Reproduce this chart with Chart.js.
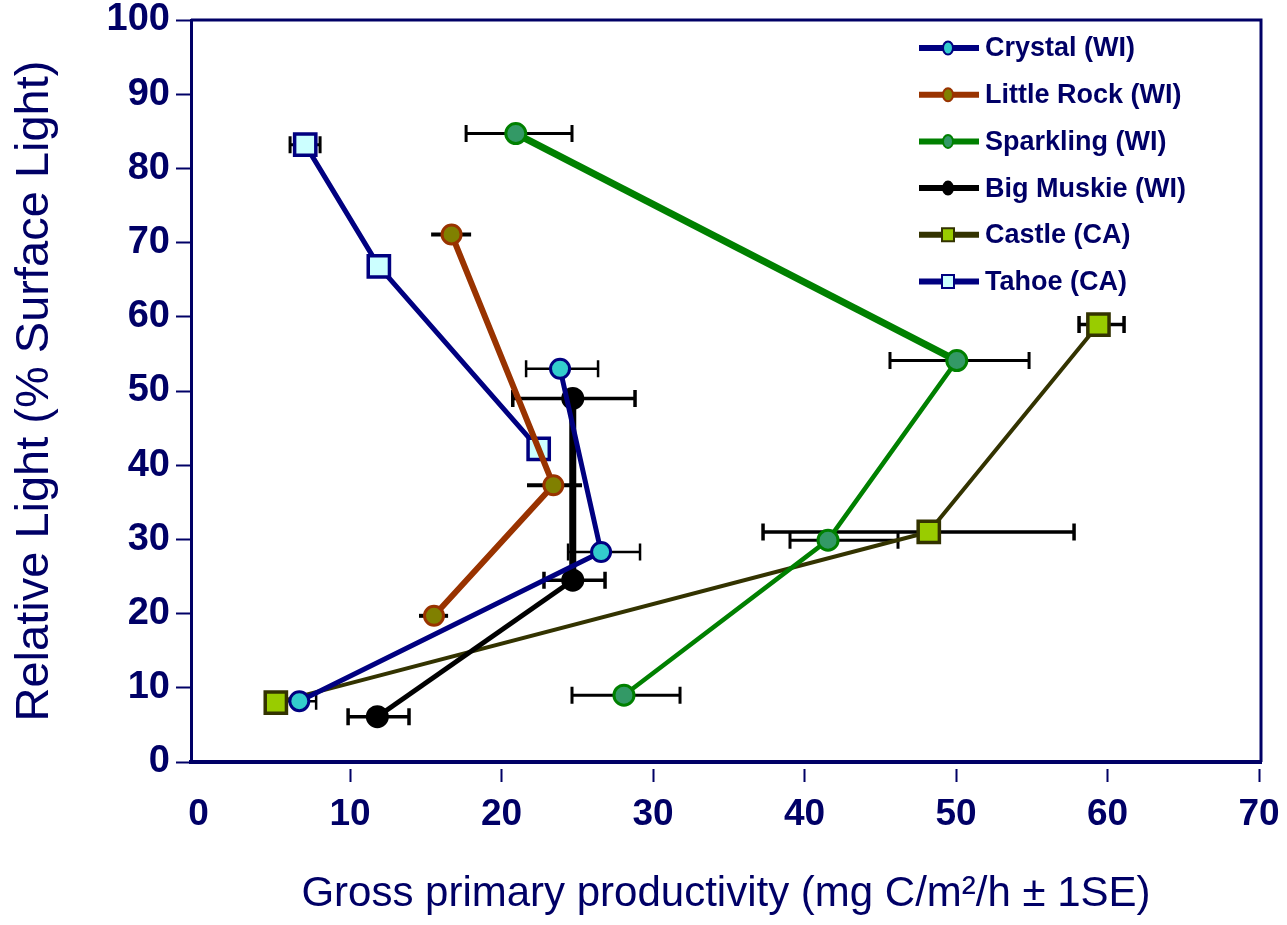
<!DOCTYPE html>
<html>
<head>
<meta charset="utf-8">
<script src="https://cdn.jsdelivr.net/npm/chart.js@4.4.0/dist/chart.umd.min.js"></script>
<style>
  body { margin: 0; background: #fff; }
  canvas { display: block; }
</style>
</head>
<body>
<canvas id="lightChart" width="1287" height="925"></canvas>
<script>
// tick labels
const xTicks = [0, 10, 20, 30, 40, 50, 60, 70];
const yTicks = [0, 10, 20, 30, 40, 50, 60, 70, 80, 90, 100];

const lakeNames = ['Crystal (WI)', 'Little Rock (WI)', 'Sparkling (WI)', 'Big Muskie (WI)', 'Castle (CA)', 'Tahoe (CA)'];

// GPP (x), relative light (y), error bar ends (x - 1SE, x + 1SE)
const crystalGpp = [6.65, 26.57, 23.86];
const crystalLight = [8.2, 28.3, 53.0];
const crystalLow = [5.6, 24.39, 21.62];
const crystalHigh = [7.76, 29.14, 26.37];

const littleRockGpp = [16.7, 23.42, 15.54];
const littleRockLight = [71.1, 37.3, 19.7];
const littleRockLow = [15.35, 21.68, 14.55];
const littleRockHigh = [17.99, 25.31, 16.47];

const sparklingGpp = [20.94, 50.05, 41.55, 28.08];
const sparklingLight = [84.7, 54.1, 29.9, 9.0];
const sparklingLow = [17.66, 45.64, 39.04, 24.65];
const sparklingHigh = [24.65, 54.82, 46.17, 31.78];

const bigMuskieGpp = [24.7, 24.7, 11.8];
const bigMuskieLight = [49.0, 24.5, 6.1];
const bigMuskieLow = [20.74, 22.8, 9.87];
const bigMuskieHigh = [28.81, 26.83, 13.89];

const castleGpp = [5.1, 48.2, 59.4];
const castleLight = [8.0, 31.0, 58.95];
const castleLow = [null, 37.26, 58.12];
const castleHigh = [null, 57.79, 61.09];

const tahoeGpp = [7.04, 11.9, 22.45];
const tahoeLight = [83.2, 66.8, 42.2];
const tahoeLow = [6.04, null, null];
const tahoeHigh = [8.02, null, null];

const navy = '#000066';
const fontFamily = '"Liberation Sans", Arial, sans-serif';

function lake(label, gpp, light, low, high, style) {
    return Object.assign({
        label: label,
        data: gpp.map((x, i) => ({ x: x, y: light[i] })),
        errLow: low,
        errHigh: high,
        showLine: true,
        pointStyle: 'circle',
        pointRadius: 9.5,
        pointBorderWidth: 3,
        borderJoinStyle: 'round',
        errCap: 17
    }, style);
}

// horizontal error bars, under the lines
const errorBarPlugin = {
    id: 'errorBars',
    beforeDatasetsDraw(chart) {
        const { ctx, scales } = chart;
        chart.data.datasets.forEach((ds) => {
            ctx.save();
            ctx.strokeStyle = '#000';
            ctx.lineWidth = ds.errWidth;
            ds.data.forEach((p, j) => {
                if (ds.errLow[j] == null) return;
                const py = scales.y.getPixelForValue(p.y);
                const x0 = scales.x.getPixelForValue(ds.errLow[j]);
                const x1 = scales.x.getPixelForValue(ds.errHigh[j]);
                const h = ds.errCap / 2;
                ctx.beginPath();
                ctx.moveTo(x0, py);
                ctx.lineTo(x1, py);
                if (h > 0) {
                    ctx.moveTo(x0, py - h); ctx.lineTo(x0, py + h);
                    ctx.moveTo(x1, py - h); ctx.lineTo(x1, py + h);
                }
                ctx.stroke();
            });
            ctx.restore();
        });
    }
};

// top and right sides of the box
const boxPlugin = {
    id: 'box',
    afterDraw(chart) {
        const { ctx, chartArea: a } = chart;
        ctx.save();
        ctx.strokeStyle = navy;
        ctx.lineWidth = 3;
        ctx.beginPath();
        ctx.moveTo(a.left, a.top);
        ctx.lineTo(a.right, a.top);
        ctx.lineTo(a.right, a.bottom);
        ctx.stroke();
        ctx.restore();
    }
};

// legend inside the plot, top right
const legendPlugin = {
    id: 'insideLegend',
    afterDraw(chart) {
        const ctx = chart.ctx;
        chart.data.datasets.forEach((ds, i) => {
            const y = 48 + i * 46.7;
            ctx.save();
            ctx.strokeStyle = ds.borderColor;
            ctx.lineWidth = 6;
            ctx.beginPath();
            ctx.moveTo(919, y);
            ctx.lineTo(979, y);
            ctx.stroke();
            ctx.fillStyle = ds.pointBackgroundColor;
            ctx.strokeStyle = ds.pointBorderColor;
            ctx.lineWidth = 2;
            ctx.beginPath();
            if (ds.pointStyle === 'rect') ctx.rect(942, y - 6.5, 12, 13);
            else ctx.ellipse(948, y, 5, 6.5, 0, 0, Math.PI * 2);
            ctx.fill();
            ctx.stroke();
            ctx.fillStyle = navy;
            ctx.font = 'bold 27px ' + fontFamily;
            ctx.textBaseline = 'middle';
            ctx.fillText(ds.label, 985, y + 1);
            ctx.restore();
        });
    }
};

const wideSegment = (wide, thin) => (c) => (c.p0DataIndex === 0 ? wide : thin);

new Chart(document.getElementById('lightChart'), {
    type: 'scatter',
    data: {
        datasets: [
            lake(lakeNames[0], crystalGpp, crystalLight, crystalLow, crystalHigh, {
                borderColor: '#000080', borderWidth: 5,
                pointBackgroundColor: '#33CCCC', pointBorderColor: '#000080',
                errWidth: 2.5
            }),
            lake(lakeNames[1], littleRockGpp, littleRockLight, littleRockLow, littleRockHigh, {
                borderColor: '#993300', borderWidth: 6,
                pointBackgroundColor: '#808000', pointBorderColor: '#993300',
                errWidth: 4, errCap: 0
            }),
            lake(lakeNames[2], sparklingGpp, sparklingLight, sparklingLow, sparklingHigh, {
                borderColor: '#008000', borderWidth: 4.5,
                segment: { borderWidth: wideSegment(7, 4.5) },
                pointBackgroundColor: '#339966', pointBorderColor: '#008000',
                pointRadius: 10, errWidth: 3
            }),
            lake(lakeNames[3], bigMuskieGpp, bigMuskieLight, bigMuskieLow, bigMuskieHigh, {
                borderColor: '#000000', borderWidth: 5,
                segment: { borderWidth: wideSegment(7, 5) },
                pointBackgroundColor: '#000000', pointBorderColor: '#000000',
                pointRadius: 10, errWidth: 3.5
            }),
            lake(lakeNames[4], castleGpp, castleLight, castleLow, castleHigh, {
                borderColor: '#333300', borderWidth: 4,
                pointStyle: 'rect', pointRadius: 15, pointBorderWidth: 3.5,
                pointBackgroundColor: '#99CC00', pointBorderColor: '#333300',
                errWidth: 3.5
            }),
            lake(lakeNames[5], tahoeGpp, tahoeLight, tahoeLow, tahoeHigh, {
                borderColor: '#000080', borderWidth: 5,
                pointStyle: 'rect', pointRadius: 15, pointBorderWidth: 3.5,
                pointBackgroundColor: '#CCFFFF', pointBorderColor: '#000080',
                errWidth: 3
            })
        ]
    },
    options: {
        responsive: false,
        animation: false,
        events: [],
        layout: { padding: { left: 0, top: 20, right: 26, bottom: 0 } },
        plugins: {
            legend: { display: false },
            tooltip: { enabled: false }
        },
        scales: {
            x: {
                type: 'linear',
                position: 'bottom',
                min: -0.5,
                max: 70.13,
                afterBuildTicks: (s) => { s.ticks = xTicks.map((v) => ({ value: v })); },
                afterFit: (s) => { s.height = 163; s.paddingLeft = 0; s.paddingRight = 0; },
                border: { color: navy, width: 4 },
                grid: {
                    drawOnChartArea: false,
                    tickLength: 20,
                    tickWidth: 2,
                    tickColor: (c) => (c.index === 0 ? 'rgba(0,0,0,0)' : navy),
                    tickBorderDash: [0, 5, 15, 40]
                },
                ticks: {
                    color: navy,
                    padding: 11,
                    maxRotation: 0,
                    autoSkip: false,
                    font: { family: fontFamily, size: 37, weight: 'bold' }
                },
                title: {
                    display: true,
                    text: 'Gross primary productivity (mg C/m²/h ± 1SE)',
                    color: navy,
                    padding: { top: 0, bottom: 5 },
                    font: { family: fontFamily, size: 42 }
                }
            },
            y: {
                type: 'linear',
                min: 0,
                max: 100,
                afterBuildTicks: (s) => { s.ticks = yTicks.map((v) => ({ value: v })); },
                afterFit: (s) => { s.width = 191; s.paddingTop = 0; s.paddingBottom = 0; },
                border: { color: navy, width: 3 },
                grid: {
                    drawOnChartArea: false,
                    tickLength: 15,
                    tickWidth: 2,
                    tickColor: navy
                },
                ticks: {
                    color: navy,
                    padding: 6,
                    font: { family: fontFamily, size: 38, weight: 'bold' }
                },
                title: {
                    display: true,
                    text: 'Relative Light (% Surface Light)',
                    color: navy,
                    padding: { top: 7, bottom: 0 },
                    font: { family: fontFamily, size: 47 }
                }
            }
        }
    },
    plugins: [errorBarPlugin, boxPlugin, legendPlugin]
});
</script>
</body>
</html>
